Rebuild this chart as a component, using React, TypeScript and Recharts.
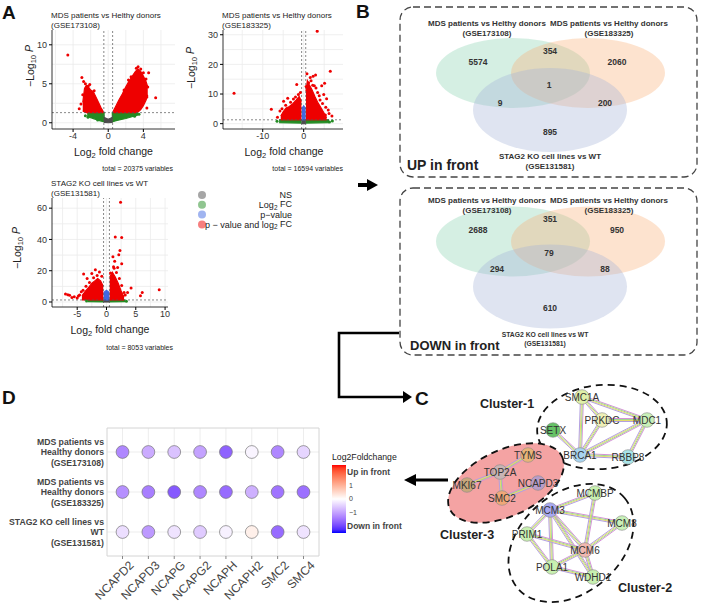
import React from 'react';
import {
  ComposedChart, ScatterChart, Scatter, Area, XAxis, YAxis, CartesianGrid, ReferenceLine, ReferenceArea,
} from 'recharts';

const FONT = '"Liberation Sans", Arial, Helvetica, sans-serif';

// ---------- A: volcano plots (cloud envelopes [x, low, high] and single points [x, y]) ----------
const volcanoTitles = [
  ['MDS patients vs Helthy donors', '(GSE173108)'],
  ['MDS patients vs Helthy donors', '(GSE183325)'],
  ['STAG2 KO cell lines vs WT', '(GSE131581)'],
];
const volcanoTotals = [20375, 16594, 8053];

const v1RedLeft = [[-2.9, 1.5, 2.6], [-2.7, 1.4, 4.4], [-2.5, 1.3, 4.8], [-2.2, 1.3, 4.5], [-2.0, 1.3, 4.2], [-1.7, 1.3, 4.0], [-1.4, 1.3, 3.3], [-1.1, 1.3, 2.6], [-0.8, 1.3, 1.9], [-0.55, 1.3, 1.4]];
const v1RedRight = [[0.55, 1.3, 1.45], [0.8, 1.3, 2.0], [1.2, 1.3, 2.9], [1.6, 1.3, 3.7], [2.0, 1.3, 4.6], [2.4, 1.3, 5.4], [2.8, 1.3, 6.1], [3.1, 1.3, 6.6], [3.4, 1.4, 6.9], [3.7, 1.7, 6.6], [4.0, 2.2, 6.0], [4.3, 2.9, 5.3], [4.5, 3.6, 4.6]];
const v1GreenLeft = [[-2.4, 0.8, 1.3], [-1.6, 0.5, 1.3], [-0.9, 0.25, 1.3], [-0.4, 0.1, 1.3]];
const v1GreenRight = [[0.4, 0.1, 1.3], [1.0, 0.3, 1.3], [2.0, 0.55, 1.3], [2.8, 0.8, 1.3], [3.4, 1.0, 1.3]];
const v1Grey = [[-0.5, 0.05, 0.7], [0, 0, 0.45], [0.5, 0.05, 0.7]];
const v1Blue: number[][] = [];
const v1RedPts = [[-4.6, 8.7], [-3.0, 5.8], [-2.8, 5.3], [-2.6, 5.0], [-2.3, 4.7], [-2.1, 4.9], [-3.1, 2.4], [-3.3, 1.8], [-2.9, 3.6], [-1.6, 4.1], [3.4, 7.2], [3.2, 7.0], [3.7, 6.9], [4.0, 6.4], [4.6, 6.4], [4.3, 5.6], [5.4, 3.2], [4.4, 1.9], [2.6, 5.9], [2.3, 5.5], [4.5, 4.6], [4.4, 3.3], [1.8, 4.2], [3.9, 2.6]];
const v1GreenPts = [[-2.6, 0.9], [-2.3, 0.7], [3.5, 1.1], [3.0, 0.85], [-1.2, 0.35]];

const v2RedLeft = [[-5.6, 1.3, 2.6], [-5.0, 1.3, 4.0], [-4.3, 1.3, 5.3], [-3.5, 1.3, 5.8], [-2.6, 1.3, 6.8], [-1.8, 1.3, 8.0], [-1.1, 1.3, 9.2], [-0.55, 1.3, 7.5]];
const v2RedRight = [[0.55, 1.3, 11], [0.9, 1.3, 14.5], [1.4, 1.3, 13], [2.0, 1.3, 11.5], [2.8, 1.3, 9], [3.5, 1.3, 7], [4.3, 1.3, 5.2], [5.0, 1.3, 3.5], [5.6, 1.3, 2.0]];
const v2GreenLeft = [[-6.0, 0.3, 1.3], [-0.5, 0.2, 1.3]];
const v2GreenRight = [[0.5, 0.2, 1.3], [6.2, 0.3, 1.3]];
const v2Grey = [[-0.55, 0, 1.3], [0.55, 0, 1.3]];
const v2Blue = [[-0.5, 1.3, 5], [0, 1.3, 6], [0.5, 1.3, 5]];
const v2RedPts = [[-17, 10.3], [-7.9, 4.9], [3.3, 31.2], [6.5, 17.7], [2.9, 16.4], [2.3, 16], [1.6, 15.6], [-1.7, 13.2], [5.1, 13.6], [4.4, 12.8], [-4.9, 7.6], [-3.9, 8.6], [-2.5, 8.3], [3.8, 9.4], [4.9, 9.8], [5.6, 8.4], [6.0, 4.6], [5.3, 2.9], [6.9, 2.6], [0.8, 16.8], [1.2, 13.8], [-5.8, 4.3], [-6.4, 2.2], [3.0, 12], [2.2, 13],
  [-0.8, 10.5], [-1.3, 9.8], [-2.0, 9.0], [-3.2, 7.2], [-4.4, 6.2], [-5.3, 5.0], [0.6, 12.5], [1.8, 14.5], [2.6, 12.8], [3.4, 10.5], [4.0, 8.0], [4.6, 6.8], [5.4, 5.5], [6.2, 3.4]];
const v2GreenPts = [[-6.5, 0.8], [7.0, 0.9], [6.3, 0.6]];

const v3RedLeft = [[-4.2, 1.3, 4], [-3.6, 1.3, 7], [-3.0, 1.3, 9.5], [-2.5, 1.3, 12], [-2.0, 1.3, 13.5], [-1.5, 1.3, 15], [-1.0, 1.3, 13.5], [-0.55, 1.3, 10]];
const v3RedRight = [[0.55, 1.3, 16], [1.0, 1.3, 19], [1.5, 1.3, 16], [2.0, 1.3, 12], [2.5, 1.3, 7], [3.0, 1.3, 3]];
const v3GreenLeft = [[-3.2, 0.2, 1.3], [-0.5, 0, 1.3]];
const v3GreenRight = [[0.5, 0, 1.3], [3.2, 0.2, 1.3]];
const v3Grey = [[-0.55, 0, 1.3], [0.55, 0, 1.3]];
const v3Blue = [[-0.5, 1.3, 6], [0, 1.3, 7.5], [0.5, 1.3, 6]];
const v3RedPts = [[2.4, 63.8], [1.5, 41.5], [2.6, 41.3], [2.1, 30.2], [1.1, 29], [2.3, 33], [2.6, 24.5], [1.4, 26], [1.9, 22], [-1.9, 20.6], [-3.9, 17.9], [-2.5, 18.3], [-3.3, 15], [-7.0, 5.1], [-6.3, 4.3], [-5.5, 3.3], [-4.8, 3.8], [-4.3, 6.5], [4.2, 8.9], [6.1, 6.1], [9.0, 7.8], [5.8, 4.0], [3.6, 6.0], [3.2, 4.5], [-1.2, 19.2], [1.3, 21.5], [-6.6, 4.6], [-5.9, 2.8], [-5.0, 2.6],
  [-0.8, 16.5], [-1.6, 17], [-2.2, 15.5], [-2.9, 12.5], [-3.5, 10], [-4.0, 7.5], [-4.6, 4.5], [0.7, 18.5], [1.2, 22.5], [1.7, 18.8], [2.2, 15], [2.6, 10.5], [3.0, 6], [2.7, 3.5]];
const v3GreenPts = [[-3.4, 0.6], [3.4, 0.5]];

const volcanoScales = [
  { xDomain: [-6.4, 7.6], yDomain: [-0.8, 11.9], xTicks: [-4, 0, 4], yTicks: [0, 5, 10], gridX: [-6, -4, -2, 0, 2, 4, 6], gridY: [0, 2.5, 5, 7.5, 10] },
  { xDomain: [-19.7, 9.6], yDomain: [-1.8, 31.6], xTicks: [-10, 0], yTicks: [0, 10, 20, 30], gridX: [-15, -10, -5, 0, 5], gridY: [0, 5, 10, 15, 20, 25, 30] },
  { xDomain: [-9.3, 10.5], yDomain: [-3.2, 66.5], xTicks: [-5, 0, 5, 10], yTicks: [0, 20, 40, 60], gridX: [-7.5, -5, -2.5, 0, 2.5, 5, 7.5, 10], gridY: [0, 10, 20, 30, 40, 50, 60] },
];
const volcanoClouds = [
  { redL: v1RedLeft, redR: v1RedRight, greenL: v1GreenLeft, greenR: v1GreenRight, grey: v1Grey, blue: v1Blue, redPts: v1RedPts, greenPts: v1GreenPts },
  { redL: v2RedLeft, redR: v2RedRight, greenL: v2GreenLeft, greenR: v2GreenRight, grey: v2Grey, blue: v2Blue, redPts: v2RedPts, greenPts: v2GreenPts },
  { redL: v3RedLeft, redR: v3RedRight, greenL: v3GreenLeft, greenR: v3GreenRight, grey: v3Grey, blue: v3Blue, redPts: v3RedPts, greenPts: v3GreenPts },
];
const fcCutoff = 0.5;
const pCutoff = 1.3;

const volcanoLayout = [
  { left: 20, top: 28, width: 160, height: 131, yw: 32 },
  { left: 190, top: 28, width: 158, height: 131, yw: 33 },
  { left: 20, top: 196, width: 153, height: 141, yw: 32 },
];

const RED = '#EE0000';
const GREEN = '#228B22';
const BLUE = '#4169E1';
const GREY = '#4D4D4D';

// ---------- B: Venn counts (A only, AB, B only, ABC, AC, BC, C only) ----------
const vennUp = [5574, 354, 2060, 1, 9, 200, 895];
const vennDown = [2688, 351, 950, 79, 294, 88, 610];

// ---------- C: network ----------
const clusterNodes = [
  ['SMC1A', 'PRKDC', 'MDC1', 'SETX', 'BRCA1', 'RBBP8'],
  ['MCMBP', 'MCM3', 'MCM8', 'PRIM1', 'MCM6', 'POLA1', 'WDHD1'],
  ['TYMS', 'TOP2A', 'MKI67', 'NCAPD3', 'SMC2'],
];
const networkEdges = [
  ['SMC1A', 'MDC1'], ['SMC1A', 'BRCA1'], ['SMC1A', 'PRKDC'], ['PRKDC', 'MDC1'], ['PRKDC', 'BRCA1'], ['MDC1', 'BRCA1'],
  ['MDC1', 'RBBP8'], ['BRCA1', 'RBBP8'], ['SETX', 'BRCA1'],
  ['TYMS', 'TOP2A'], ['TOP2A', 'MKI67'], ['TOP2A', 'SMC2'], ['SMC2', 'NCAPD3'],
  ['MCM3', 'MCMBP'], ['MCM3', 'MCM8'], ['MCM3', 'MCM6'], ['MCM3', 'PRIM1'], ['MCM3', 'POLA1'], ['MCM3', 'WDHD1'],
  ['MCMBP', 'MCM6'], ['MCM8', 'MCM6'], ['PRIM1', 'MCM6'], ['PRIM1', 'POLA1'], ['POLA1', 'MCM6'], ['MCM6', 'WDHD1'], ['POLA1', 'WDHD1'],
];

// ---------- D: log2 fold change dot plot ----------
const genes = ['NCAPD2', 'NCAPD3', 'NCAPG', 'NCAPG2', 'NCAPH', 'NCAPH2', 'SMC2', 'SMC4'];
const dotDatasets = [
  ['MDS patients vs', 'Healthy donors', '(GSE173108)'],
  ['MDS patients vs', 'Healthy donors', '(GSE183325)'],
  ['STAG2 KO cell lines vs', 'WT', '(GSE131581)'],
];
const fcGSE173108 = [-1.3, -0.9, -0.65, -1.0, -1.7, -0.12, -1.3, -0.45];
const fcGSE183325 = [-1.2, -1.4, -1.8, -1.3, -1.6, -0.85, -1.5, -1.55];
const fcGSE131581 = [-0.35, -1.1, -0.3, -0.55, -0.15, 0.2, -1.6, -0.3];
const fcLimit = 2.5;
const fcBreaks = [2, 1, 0, -1, -2];

// ---------- layout of diagrams (page pixel coords) ----------
const vennEllipses = [
  { x: 513, y: 73, rx: 77, ry: 35, fill: '#87d1af' },
  { x: 588, y: 73, rx: 77, ry: 35, fill: '#f9af76' },
  { x: 550, y: 110, rx: 77, ry: 42, fill: '#a4b1d7' },
  { x: 513, y: 241.5, rx: 77, ry: 35, fill: '#87d1af' },
  { x: 588, y: 241.5, rx: 77, ry: 35, fill: '#f9af76' },
  { x: 550, y: 286.5, rx: 77, ry: 42, fill: '#a4b1d7' },
];
const vennUpPos = [[478, 62], [550, 51], [617, 62], [549, 85], [500, 103], [605, 103], [550, 132]];
const vennDownPos = [[478, 230], [550, 219], [617, 230], [549, 253], [497, 269], [605, 269], [550, 308]];

const nodePos: Record<string, number[]> = {
  SMC1A: [582, 397], PRKDC: [602, 420], MDC1: [647, 420], SETX: [553, 430], BRCA1: [580, 455], RBBP8: [628, 457],
  TYMS: [528, 455], TOP2A: [500, 472], MKI67: [467, 485], NCAPD3: [538, 483], SMC2: [502, 498],
  MCMBP: [595, 493], MCM3: [550, 510], MCM8: [622, 523], PRIM1: [527, 534], MCM6: [585, 550], POLA1: [552, 567], WDHD1: [593, 577],
};
const nodeColor: Record<string, string> = {
  SMC1A: '#e0f0a8', PRKDC: '#eef0b8', MDC1: '#c8f0b8', SETX: '#66c266', BRCA1: '#a8d4f0', RBBP8: '#a8e4e8',
  TYMS: '#e8b478', TOP2A: '#c8b4b4', MKI67: '#c8a87c', NCAPD3: '#b89cc8', SMC2: '#f0a878',
  MCMBP: '#c8f0b0', MCM3: '#a8a8f0', MCM8: '#c8f0b8', PRIM1: '#c8f0b0', MCM6: '#f0b8b0', POLA1: '#c8f0b0', WDHD1: '#c8f0b0',
};
const clusterShapes = [
  { x: 602, y: 427, rx: 65, ry: 42, rot: -5, fill: 'none', label: 'Cluster-1', lx: 507, ly: 404 },
  { x: 571, y: 543, rx: 70, ry: 50, rot: -40, fill: 'none', label: 'Cluster-2', lx: 645, ly: 588 },
  { x: 506, y: 483, rx: 62, ry: 33, rot: -25, fill: '#f4a3a3', label: 'Cluster-3', lx: 467, ly: 535 },
];

// ---------- colour scale (Lab interpolation, like scale_colour_gradient2) ----------
function toLin(c: number) { c /= 255; return c <= 0.04045 ? c / 12.92 : Math.pow((c + 0.055) / 1.055, 2.4); }
function toSrgb(c: number) {
  c = Math.min(1, Math.max(0, c));
  return Math.round((c <= 0.0031308 ? 12.92 * c : 1.055 * Math.pow(c, 1 / 2.4) - 0.055) * 255);
}
function rgbToLab([r, g, b]: number[]) {
  const R = toLin(r), G = toLin(g), B = toLin(b);
  const X = (0.4124 * R + 0.3576 * G + 0.1805 * B) / 0.95047;
  const Y = 0.2126 * R + 0.7152 * G + 0.0722 * B;
  const Z = (0.0193 * R + 0.1192 * G + 0.9505 * B) / 1.08883;
  const f = (t: number) => (t > 0.008856 ? Math.cbrt(t) : 7.787 * t + 16 / 116);
  const fx = f(X), fy = f(Y), fz = f(Z);
  return [116 * fy - 16, 500 * (fx - fy), 200 * (fy - fz)];
}
function labToRgb([L, a, b]: number[]) {
  const fy = (L + 16) / 116, fx = fy + a / 500, fz = fy - b / 200;
  const inv = (t: number) => (t ** 3 > 0.008856 ? t ** 3 : (t - 16 / 116) / 7.787);
  const X = inv(fx) * 0.95047, Y = inv(fy), Z = inv(fz) * 1.08883;
  const R = 3.2406 * X - 1.5372 * Y - 0.4986 * Z;
  const G = -0.9689 * X + 1.8758 * Y + 0.0415 * Z;
  const B = 0.0557 * X - 0.204 * Y + 1.057 * Z;
  return `rgb(${toSrgb(R)},${toSrgb(G)},${toSrgb(B)})`;
}
const LAB_LOW = rgbToLab([0, 0, 255]);
const LAB_MID = rgbToLab([255, 255, 255]);
const LAB_HIGH = rgbToLab([255, 0, 0]);
function fcColor(v: number) {
  const t = Math.max(-1, Math.min(1, v / fcLimit));
  const end = t < 0 ? LAB_LOW : LAB_HIGH;
  const k = Math.abs(t);
  return labToRgb(LAB_MID.map((m, i) => m + (end[i] - m) * k));
}

// ---------- helpers ----------
function envelopeRows(groups: [string, number[][]][]) {
  const rows: any[] = [];
  groups.forEach(([key, pts]) => pts.forEach(([x, lo, hi]) => rows.push({ x, [key]: [lo, hi] })));
  return rows.sort((a, b) => a.x - b.x);
}
const toPts = (arr: number[][]) => arr.map(([x, y]) => ({ x, y }));
const dot = (fill: string, r = 1.5) => (p: any) => <circle cx={p.cx} cy={p.cy} r={r} fill={fill} />;
const tickStyle = { fontSize: 9, fill: '#333', fontFamily: FONT };

function Volcano({ i }: { i: number }) {
  const lay = volcanoLayout[i];
  const s = volcanoScales[i];
  const c = volcanoClouds[i];
  const rows = envelopeRows([
    ['greenL', c.greenL], ['greenR', c.greenR], ['grey', c.grey], ['blue', c.blue], ['redL', c.redL], ['redR', c.redR],
  ]);
  const area = (key: string, color: string) => (
    <Area key={key} dataKey={key} type="linear" fill={color} fillOpacity={1} stroke={color} strokeWidth={1.2}
      connectNulls dot={false} activeDot={false} isAnimationActive={false} />
  );
  return (
    <div style={{ position: 'absolute', left: lay.left, top: lay.top }}>
      <ComposedChart width={lay.width} height={lay.height} data={rows} margin={{ top: 2, right: 5, left: 0, bottom: 0 }}>
        <CartesianGrid stroke="#ebebeb" strokeWidth={0.8} horizontalValues={s.gridY} verticalValues={s.gridX} />
        <XAxis type="number" dataKey="x" domain={s.xDomain} allowDataOverflow ticks={s.xTicks} interval={0} height={30}
          tickSize={3} tickMargin={1} tick={tickStyle} axisLine={{ stroke: '#000', strokeWidth: 0.8 }} tickLine={{ stroke: '#000' }} />
        <YAxis type="number" dataKey="y" domain={s.yDomain} allowDataOverflow ticks={s.yTicks} interval={0} width={lay.yw}
          tickSize={3} tickMargin={2} tick={tickStyle} axisLine={{ stroke: '#000', strokeWidth: 0.8 }} tickLine={{ stroke: '#000' }} />
        {c.greenL.length > 0 && area('greenL', GREEN)}
        {c.greenR.length > 0 && area('greenR', GREEN)}
        {c.grey.length > 0 && area('grey', GREY)}
        {c.blue.length > 0 && area('blue', BLUE)}
        {area('redL', RED)}
        {area('redR', RED)}
        <Scatter data={toPts(c.greenPts)} shape={dot(GREEN)} isAnimationActive={false} />
        <Scatter data={toPts(c.redPts)} shape={dot(RED)} isAnimationActive={false} />
        <ReferenceLine x={-fcCutoff} stroke="#555" strokeDasharray="2 2" strokeWidth={0.7} />
        <ReferenceLine x={fcCutoff} stroke="#555" strokeDasharray="2 2" strokeWidth={0.7} />
        <ReferenceLine y={pCutoff} stroke="#555" strokeDasharray="2 2" strokeWidth={0.7} />
      </ComposedChart>
    </div>
  );
}

// Venn diagrams, axes span the page pixels so radii can be given in axis units
function VennChart() {
  const counts = [
    ...vennUp.map((n, k) => ({ x: vennUpPos[k][0], y: vennUpPos[k][1], n })),
    ...vennDown.map((n, k) => ({ x: vennDownPos[k][0], y: vennDownPos[k][1], n })),
  ];
  return (
    <div style={{ position: 'absolute', left: 400, top: 0 }}>
      <ScatterChart width={300} height={360} margin={{ top: 0, right: 0, bottom: 0, left: 0 }}>
        <XAxis type="number" dataKey="x" domain={[400, 700]} hide />
        <YAxis type="number" dataKey="y" domain={[0, 360]} reversed hide />
        <Scatter data={vennEllipses} isAnimationActive={false}
          shape={(p: any) => <ellipse cx={p.cx} cy={p.cy} rx={p.payload.rx} ry={p.payload.ry} fill={p.payload.fill} fillOpacity={0.35} />} />
        <Scatter data={counts} isAnimationActive={false}
          shape={(p: any) => (
            <text x={p.cx} y={p.cy} dy="0.35em" textAnchor="middle" fontSize={8.5} fontWeight="bold" fill="#333" fontFamily={FONT}>{p.payload.n}</text>
          )} />
      </ScatterChart>
    </div>
  );
}

const edgeStripes = [['#d590d8', -1.5], ['#9fd88f', -0.5], ['#e3dc6e', 0.5], ['#b3a0e0', 1.5]];

function NetworkChart() {
  const nodes = clusterNodes.flat().map((name) => ({ x: nodePos[name][0], y: nodePos[name][1], name }));
  const edges = networkEdges.map(([a, b]) => {
    const [x1, y1] = nodePos[a];
    const [x2, y2] = nodePos[b];
    return { x: (x1 + x2) / 2, y: (y1 + y2) / 2, dx: (x2 - x1) / 2, dy: (y2 - y1) / 2 };
  });
  return (
    <div style={{ position: 'absolute', left: 430, top: 375 }}>
      <ScatterChart width={272} height={230} margin={{ top: 0, right: 0, bottom: 0, left: 0 }}>
        <XAxis type="number" dataKey="x" domain={[430, 702]} hide />
        <YAxis type="number" dataKey="y" domain={[375, 605]} reversed hide />
        <Scatter data={clusterShapes} isAnimationActive={false}
          shape={(p: any) => (
            <ellipse cx={p.cx} cy={p.cy} rx={p.payload.rx} ry={p.payload.ry} fill={p.payload.fill}
              stroke="#111" strokeWidth={1.8} strokeDasharray="7 5" transform={`rotate(${p.payload.rot} ${p.cx} ${p.cy})`} />
          )} />
        <Scatter data={edges} isAnimationActive={false}
          shape={(p: any) => {
            const { dx, dy } = p.payload;
            const len = Math.hypot(dx, dy) || 1;
            const nx = -dy / len, ny = dx / len;
            return (
              <g>
                {edgeStripes.map(([col, off]) => (
                  <line key={col as string} x1={p.cx - dx + nx * (off as number)} y1={p.cy - dy + ny * (off as number)}
                    x2={p.cx + dx + nx * (off as number)} y2={p.cy + dy + ny * (off as number)} stroke={col as string} strokeWidth={1} />
                ))}
              </g>
            );
          }} />
        <Scatter data={nodes} isAnimationActive={false}
          shape={(p: any) => (
            <g>
              <circle cx={p.cx} cy={p.cy} r={7.3} fill={nodeColor[p.payload.name]} stroke="#888" strokeWidth={0.6} />
              <text x={p.cx} y={p.cy} dy="0.35em" textAnchor="middle" fontSize={10} fill="#333" fontFamily={FONT}>{p.payload.name}</text>
            </g>
          )} />
      </ScatterChart>
    </div>
  );
}

function DatasetTick({ x, y, payload }: any) {
  const lines = dotDatasets[payload.value - 1] || [];
  return (
    <text x={x} y={y} textAnchor="end" fontSize={8.7} fontWeight="bold" fill="#444" fontFamily={FONT}>
      {lines.map((l, k) => (
        <tspan key={k} x={x} dy={k === 0 ? '-0.8em' : '1.18em'}>{l}</tspan>
      ))}
    </text>
  );
}

function GeneTick({ x, y, payload }: any) {
  const ax = x + 12;
  const ay = y + 6;
  return (
    <text x={ax} y={ay} textAnchor="end" fontSize={12} fill="#444" fontFamily={FONT}
      transform={`rotate(-45 ${ax} ${ay})`}>{genes[payload.value - 1]}</text>
  );
}

function DotPlot() {
  const rows = [fcGSE173108, fcGSE183325, fcGSE131581];
  const data = rows.flatMap((vals, r) => vals.map((v, k) => ({ x: k + 1, y: r + 1, v })));
  return (
    <div style={{ position: 'absolute', left: 0, top: 420 }}>
      <ScatterChart width={330} height={185} margin={{ top: 8, right: 11, bottom: 0, left: 0 }}>
        <CartesianGrid stroke="#ebebeb" strokeWidth={0.9} horizontalValues={[1, 2, 3]} verticalValues={genes.map((_, k) => k + 1)} />
        <XAxis type="number" dataKey="x" domain={[0.4, 8.6]} ticks={genes.map((_, k) => k + 1)} interval={0} height={49}
          axisLine={false} tickSize={3} tickMargin={1} tickLine={{ stroke: '#888' }} tick={<GeneTick />} />
        <YAxis type="number" dataKey="y" domain={[0.4, 3.6]} reversed ticks={[1, 2, 3]} interval={0} width={107}
          axisLine={false} tickSize={0} tickMargin={3} tick={<DatasetTick />} />
        <ReferenceArea x1={0.4} x2={8.6} y1={0.4} y2={3.6} fill="none" stroke="#d4d4d4" strokeWidth={1} ifOverflow="visible" />
        <Scatter data={data} isAnimationActive={false}
          shape={(p: any) => <circle cx={p.cx} cy={p.cy} r={6.4} fill={fcColor(p.payload.v)} stroke="#777" strokeWidth={0.7} />} />
      </ScatterChart>
    </div>
  );
}

// ---------- text, frames and arrows ----------
function Sub({ children }: any) {
  return <tspan fontSize="0.72em" dy="0.3em">{children}</tspan>;
}

function VolcanoTexts() {
  const pos = [
    { tx: 51, ty: 15, xt: [113.5, 156], yt: [34, 66], total: [173, 169] },
    { tx: 222, ty: 15, xt: [284, 156], yt: [195, 68], total: [343, 169] },
    { tx: 51, ty: 183, xt: [110, 334], yt: [21, 248], total: [173, 348] },
  ];
  return (
    <g fontFamily={FONT}>
      {pos.map((p, i) => (
        <g key={i}>
          <text x={p.tx} y={p.ty} fontSize={8} fill="#222" dy="0.35em">{volcanoTitles[i][0]}</text>
          <text x={p.tx} y={p.ty + 10} fontSize={8} fill="#222" dy="0.35em">{volcanoTitles[i][1]}</text>
          <text x={p.xt[0]} y={p.xt[1]} fontSize={10.5} fill="#222" textAnchor="middle">
            Log<Sub>2</Sub><tspan dy="-0.3em"> fold change</tspan>
          </text>
          <text x={p.yt[0]} y={p.yt[1]} fontSize={10.5} fill="#222" textAnchor="middle" transform={`rotate(-90 ${p.yt[0]} ${p.yt[1]})`}>
            −Log<Sub>10</Sub><tspan dy="-0.3em"> </tspan><tspan fontStyle="italic">P</tspan>
          </text>
          <text x={p.total[0]} y={p.total[1]} fontSize={7} fill="#222" textAnchor="end" dy="0.35em">total = {volcanoTotals[i]} variables</text>
        </g>
      ))}
      {[
        ['#4D4D4D', 'NS'], [GREEN, 'Log2 FC'], [BLUE, 'p−value'], [RED, 'p − value and log2 FC'],
      ].map(([col, lab], k) => (
        <g key={lab}>
          <circle cx={202} cy={195 + k * 9.8} r={4} fill={col} fillOpacity={0.5} />
          <text x={292} y={195 + k * 9.8} dy="0.35em" fontSize={9} fill="#222" textAnchor="end">
            {lab === 'Log2 FC' ? <>Log<Sub>2</Sub><tspan dy="-0.3em"> FC</tspan></> :
              lab === 'p − value and log2 FC' ? <>p − value and log<Sub>2</Sub><tspan dy="-0.3em"> FC</tspan></> : lab}
          </text>
        </g>
      ))}
    </g>
  );
}

function VennTexts() {
  const setLabel = (x: number, y: number, a: string, b: string, fs = 8) => (
    <g fontSize={fs} fontWeight="bold" fill="#333" textAnchor="middle">
      <text x={x} y={y} dy="0.35em">{a}</text>
      <text x={x} y={y + fs * 1.3} dy="0.35em">{b}</text>
    </g>
  );
  return (
    <g fontFamily={FONT}>
      <rect x={400} y={7} width={297} height={170} rx={13} fill="none" stroke="#444" strokeWidth={1.3} strokeDasharray="7 4" />
      <rect x={400} y={188} width={297} height={167} rx={13} fill="none" stroke="#444" strokeWidth={1.3} strokeDasharray="7 4" />
      {setLabel(487, 23, 'MDS patients vs Helthy donors', '(GSE173108)')}
      {setLabel(609, 23, 'MDS patients vs Helthy donors', '(GSE183325)')}
      {setLabel(550, 156, 'STAG2 KO cell lines vs WT', '(GSE131581)')}
      {setLabel(487, 200, 'MDS patients vs Helthy donors', '(GSE173108)')}
      {setLabel(609, 200, 'MDS patients vs Helthy donors', '(GSE183325)')}
      {setLabel(545, 335, 'STAG2 KO cell lines vs WT', '(GSE131581)', 6.8)}
      <text x={407} y={165} dy="0.35em" fontSize={14} fontWeight="bold" fill="#222">UP in front</text>
      <text x={410} y={345} dy="0.35em" fontSize={13} fontWeight="bold" fill="#222">DOWN in front</text>
    </g>
  );
}

function FrameAndArrows() {
  return (
    <g fontFamily={FONT}>
      <text x={2} y={19} fontSize={19} fontWeight="bold" fill="#111">A</text>
      <text x={356} y={18} fontSize={19} fontWeight="bold" fill="#111">B</text>
      <text x={415} y={405} fontSize={19} fontWeight="bold" fill="#111">C</text>
      <text x={2} y={404} fontSize={19} fontWeight="bold" fill="#111">D</text>
      {/* arrow A -> B */}
      <line x1={358} y1={185} x2={369} y2={185} stroke="#000" strokeWidth={4} />
      <polygon points="367,179 378,185 367,191" fill="#000" />
      {/* bracket B -> C */}
      <path d="M399,333 H339 V397 H404" fill="none" stroke="#000" strokeWidth={2.6} />
      <polygon points="403,391 412,397 403,403" fill="#000" />
      {/* arrow C -> D */}
      <line x1={448} y1={480} x2={414} y2={480} stroke="#000" strokeWidth={3.2} />
      <polygon points="404,480 416,474 416,486" fill="#000" />
      {clusterShapes.map((c) => (
        <text key={c.label} x={c.lx} y={c.ly} dy="0.35em" textAnchor="middle" fontSize={12.5} fontWeight="bold" fill="#222">{c.label}</text>
      ))}
    </g>
  );
}

function FcLegend() {
  const stops = Array.from({ length: 21 }, (_, k) => fcLimit - (k * 2 * fcLimit) / 20);
  const top = 465, h = 68;
  const yOf = (v: number) => top + ((fcLimit - v) / (2 * fcLimit)) * h;
  const breakLabel = (b: number) => (b === 2 ? 'Up in front' : b === -2 ? 'Down in front' : b < 0 ? `−${-b}` : `${b}`);
  return (
    <g fontFamily={FONT}>
      <defs>
        <linearGradient id="fcbar" x1="0" y1="0" x2="0" y2="1">
          {stops.map((v, k) => <stop key={k} offset={k / 20} stopColor={fcColor(v)} />)}
        </linearGradient>
      </defs>
      <text x={332} y={457} dy="0.35em" fontSize={8.7} fill="#222">Log2Foldchange</text>
      <rect x={332} y={top} width={14} height={h} fill="url(#fcbar)" />
      {fcBreaks.map((b) => (
        <text key={b} x={Math.abs(b) === 2 ? 347 : 349} y={yOf(b)} dy="0.35em" fontSize={Math.abs(b) === 2 ? 8.5 : 7}
          fontWeight={Math.abs(b) === 2 ? 'bold' : 'normal'} fill="#444">{breakLabel(b)}</text>
      ))}
    </g>
  );
}

export default function App() {
  return (
    <div style={{ position: 'relative', width: 702, height: 605, background: '#fff', fontFamily: FONT, overflow: 'hidden' }}>
      <style>{'body{margin:0}'}</style>
      <Volcano i={0} />
      <Volcano i={1} />
      <Volcano i={2} />
      <VennChart />
      <NetworkChart />
      <DotPlot />
      <svg width={702} height={605} style={{ position: 'absolute', left: 0, top: 0, pointerEvents: 'none' }}>
        <VolcanoTexts />
        <VennTexts />
        <FrameAndArrows />
        <FcLegend />
      </svg>
    </div>
  );
}
